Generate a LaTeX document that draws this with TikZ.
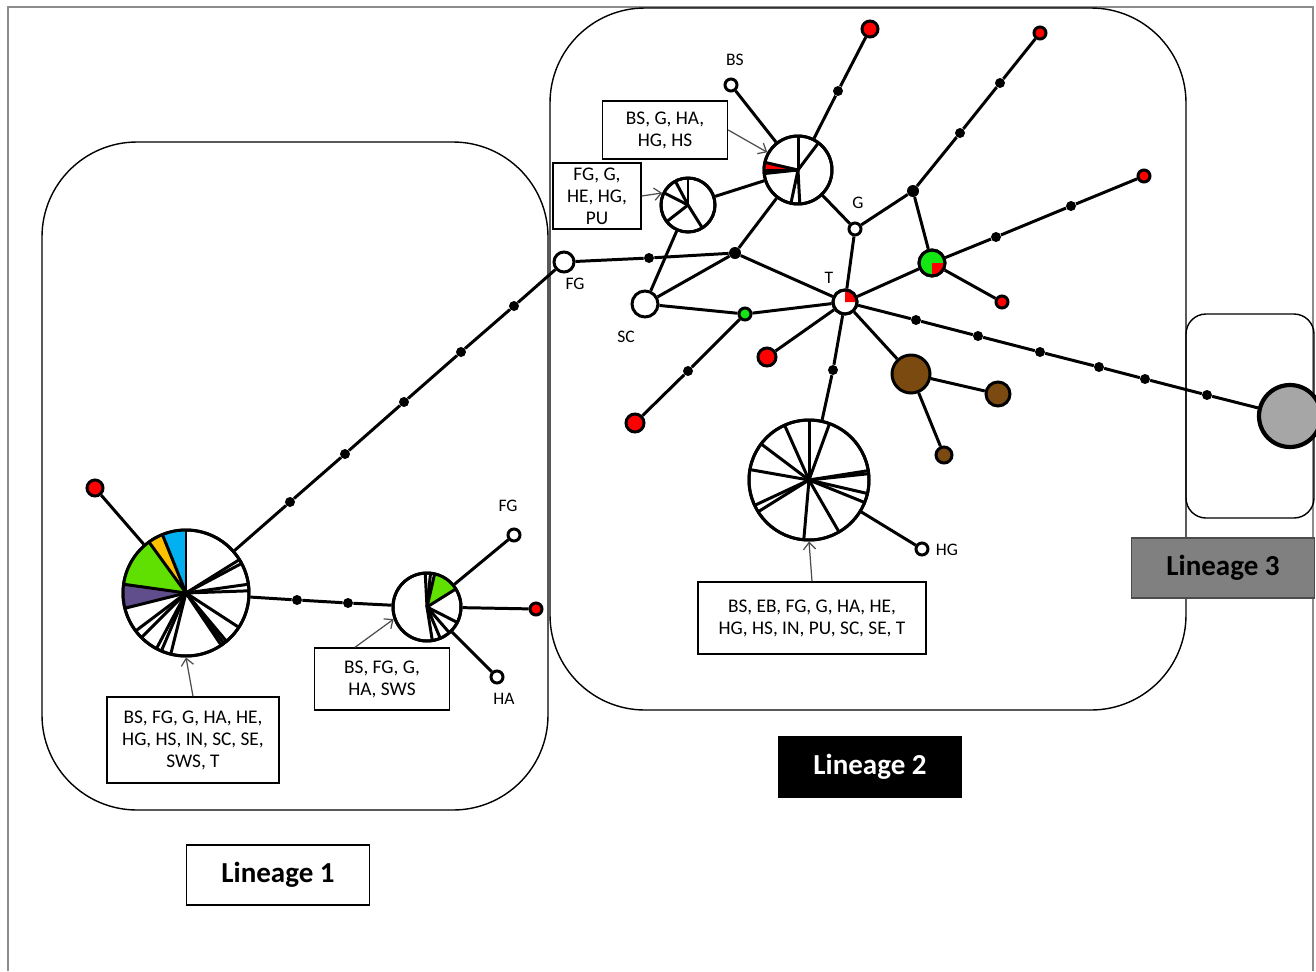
\documentclass[tikz,border=0pt]{standalone}
\usepackage{fontspec}
\setmainfont{Carlito}
\usetikzlibrary{arrows.meta}
\definecolor{pgreen}{HTML}{5FE000}
\definecolor{tgreen}{HTML}{14E614}
\definecolor{pblue}{HTML}{00B0F0}
\definecolor{porange}{HTML}{FFC000}
\definecolor{ppurple}{HTML}{604E8C}
\definecolor{pbrown}{HTML}{7B4A10}
\begin{document}
\begin{tikzpicture}[x=0.02cm,y=-0.02cm,
  hap/.style={circle,draw,line width=1.7pt,fill=white,inner sep=0pt,minimum size=#1*0.02cm},
  mut/.style={circle,fill=black,inner sep=0pt,minimum size=#1*0.02cm},
  mut/.default=10,
  link/.style={line width=1.7pt},
  tag/.style={draw,line width=0.8pt,fill=white,align=center,inner sep=0pt,font=\fontsize{11}{12.5}\selectfont},
  lbl/.style={inner sep=0pt,font=\fontsize{10}{12}\selectfont},
  lineage/.style={draw,line width=0.8pt,minimum width=3.66cm,minimum height=1.2cm,font=\fontsize{16.5}{19}\selectfont\bfseries},
  pointer/.style={-{Straight Barb[length=4pt,width=7pt]},line width=0.7pt,draw=black!70}]

\useasboundingbox (0,0) rectangle (1316,971);
\fill[white] (0,0) rectangle (1316,971);
\draw[black!45,line width=1pt] (8,971) -- (8,7) -- (1313,7) -- (1313,971);

% lineage boxes
\draw[line width=0.8pt,rounded corners=1.9cm] (42,142) rectangle (548,810);
\draw[line width=0.8pt,rounded corners=1.9cm] (550,8) rectangle (1186,710);
\draw[line width=0.8pt,rounded corners=0.4cm] (1186,314) rectangle (1314,518);
\node[lineage,fill=white] (lin1) at (278,875) {Lineage 1};
\node[lineage,fill=black,text=white] (lin2) at (870,767) {Lineage 2};
\node[lineage,fill=black!50,draw=black!70,text=black] (lin3) at (1223,568) {Lineage 3};

% lineage 1 haplotypes
\node[hap=16,fill=red] (r1) at (95,488) {};
\node[hap=126] (p1) at (186,593) {};
\node[hap=68] (p2) at (427,607) {};
\node[hap=12] (fg1) at (514,535) {};
\node[hap=12,fill=red] (r2) at (536,609) {};
\node[hap=12] (ha1) at (497,677) {};
\foreach \n/\x/\y in {a1/290/502,a2/345/454,a3/404/402,a4/461/352,a5/514/306,b1/297/600,b2/348/603}
  \node[mut] (\n) at (\x,\y) {};

% lineage 2 haplotypes
\node[hap=20] (fg2) at (564,262) {};
\node[hap=26] (sc) at (645,304) {};
\node[hap=54] (p3) at (688,205) {};
\node[hap=68] (p4) at (798,170) {};
\node[hap=12] (bs) at (731,85) {};
\node[hap=12] (g) at (855,229) {};
\node[hap=24] (t) at (845,302) {};
\node[hap=12,fill=tgreen] (gs) at (745,314) {};
\node[hap=26,fill=tgreen] (gr) at (932,263) {};
\foreach \n/\x/\y/\s in {r3/635/423/18,r4/767/357/18,r5/870/29/16,r6/1040/33/12,r7/1144/176/12,r8/1002/302/12}
  \node[hap=\s,fill=red] (\n) at (\x,\y) {};
\foreach \n/\x/\y/\s in {br1/911/374/38,br2/998/394/24,br3/944/455/16}
  \node[hap=\s,fill=pbrown] (\n) at (\x,\y) {};
\node[hap=120] (p5) at (809,480) {};
\node[hap=12] (hg) at (922,549) {};
\node[hap=62,fill=black!35,line width=2.4pt] (l3) at (1290,416) {};
\node[mut=12] (j1) at (735,253) {};
\node[mut=12] (j2) at (913,191) {};
\foreach \n/\x/\y in {c1/649/258,c2/688/371,c3/833/370,c4/838/91,c5/960/133,c6/1000/83,c7/996/237,c8/1071/206,
    d1/916/320,d2/978/336,d3/1040/352,d4/1099/367,d5/1145/379,d6/1207/395}
  \node[mut] (\n) at (\x,\y) {};

% pie slices
\foreach \a/\b/\c in {90/112/pblue,112/126/porange,126/172/pgreen,172/194/ppurple}
  \fill[\c] (p1.center) -- ++(\a:1.26cm) arc[start angle=\a,end angle=\b,radius=1.26cm] -- cycle;
\foreach \a in {90,112,126,172,194,32,28,8,2,-33,-50,-53,-56,-104,-113,-118,-135,-143}
  \draw[link] (p1.center) -- ++(\a:1.26cm);
\draw[line width=1.7pt] (p1.center) circle[radius=1.26cm];

\fill[pgreen] (p2.center) -- ++(32:0.68cm) arc[start angle=32,end angle=77,radius=0.68cm] -- cycle;
\foreach \a in {93,84,77,32,-27,-49,-67,-81}
  \draw[link] (p2.center) -- ++(\a:0.68cm);
\draw[line width=1.7pt] (p2.center) circle[radius=0.68cm];

\foreach \a in {90,118,153,218,-58}
  \draw[link] (p3.center) -- ++(\a:0.54cm);
\draw[line width=1.7pt] (p3.center) circle[radius=0.54cm];

\fill[red] (p4.center) -- ++(167:0.68cm) arc[start angle=167,end angle=180,radius=0.68cm] -- cycle;
\foreach \a in {90,53,167,180,186,-102,-87}
  \draw[link] (p4.center) -- ++(\a:0.68cm);
\draw[line width=1.7pt] (p4.center) circle[radius=0.68cm];

\foreach \a in {90,70,114,143,170,205,212,265,-60,-22,-13,6,9}
  \draw[link] (p5.center) -- ++(\a:1.2cm);
\draw[line width=1.7pt] (p5.center) circle[radius=1.2cm];

\fill[red] (t.center) -- ++(0:0.24cm) arc[start angle=0,end angle=90,radius=0.24cm] -- cycle;
\draw[line width=1.7pt] (t.center) circle[radius=0.24cm];
\fill[red] (gr.center) -- ++(-90:0.26cm) arc[start angle=-90,end angle=0,radius=0.26cm] -- cycle;
\draw[line width=1.7pt] (gr.center) circle[radius=0.26cm];

% connectors
\draw[link] (p1) -- (r1);
\draw[link] (p1) -- (a1) -- (a2) -- (a3) -- (a4) -- (a5) -- (fg2);
\draw[link] (p1) -- (b1) -- (b2) -- (p2);
\draw[link] (p2) -- (fg1);
\draw[link] (p2) -- (r2);
\draw[link] (p2) -- (ha1);

\draw[link] (fg2) -- (c1) -- (j1);
\draw[link] (j1) -- (p4);
\draw[link] (j1) -- (t);
\draw[link] (j1) -- (sc);
\draw[link] (sc) -- (p3);
\draw[link] (sc) -- (gs) -- (t);
\draw[link] (gs) -- (c2) -- (r3);
\draw[link] (p3) -- (p4);
\draw[link] (bs) -- (p4);
\draw[link] (p4) -- (c4) -- (r5);
\draw[link] (p4) -- (g) -- (t);
\draw[link] (g) -- (j2) -- (c5) -- (c6) -- (r6);
\draw[link] (j2) -- (gr) -- (t);
\draw[link] (gr) -- (c7) -- (c8) -- (r7);
\draw[link] (gr) -- (r8);
\draw[link] (t) -- (r4);
\draw[link] (t) -- (c3) -- (p5);
\draw[link] (p5) -- (hg);
\draw[link] (t) -- (br1);
\draw[link] (br1) -- (br2);
\draw[link] (br1) -- (br3);
\draw[link] (t) -- (d1) -- (d2) -- (d3) -- (d4) -- (d5) -- (d6) -- (l3);

% site labels
\node[lbl] (labfg1) at (508,506) {FG};
\node[lbl] (labha) at (504,699) {HA};
\node[lbl] (labfg2) at (575,284) {FG};
\node[lbl] (labsc) at (626,337) {SC};
\node[lbl] (labbs) at (735,60) {BS};
\node[lbl] (labg) at (858,203) {G};
\node[lbl] (labt) at (829,278) {T};
\node[lbl] (labhg) at (947,550) {HG};

% site lists
\node[tag,minimum width=3.44cm,minimum height=1.72cm] (tagA) at (193,740) {BS, FG, G, HA, HE,\\HG, HS, IN, SC, SE,\\SWS, T};
\node[tag,minimum width=2.7cm,minimum height=1.24cm] (tagB) at (382,679) {BS, FG, G,\\HA, SWS};
\node[tag,minimum width=2.5cm,minimum height=1.16cm] (tagC) at (665,130) {BS, G, HA,\\HG, HS};
\node[tag,minimum width=1.76cm,minimum height=1.32cm] (tagD) at (597,196) {FG, G,\\HE, HG,\\PU};
\node[tag,minimum width=4.56cm,minimum height=1.44cm] (tagE) at (812,618) {BS, EB, FG, G, HA, HE,\\HG, HS, IN, PU, SC, SE, T};
\draw[pointer] (tagA.north) -- (p1.south);
\draw[pointer] ([xshift=-0.54cm]tagB.north) -- (p2.200);
\draw[pointer] (tagC.east) -- (p4.150);
\draw[pointer] (tagD.east) -- (p3.155);
\draw[pointer] (tagE.north) -- (p5.south);

\end{tikzpicture}
\end{document}
